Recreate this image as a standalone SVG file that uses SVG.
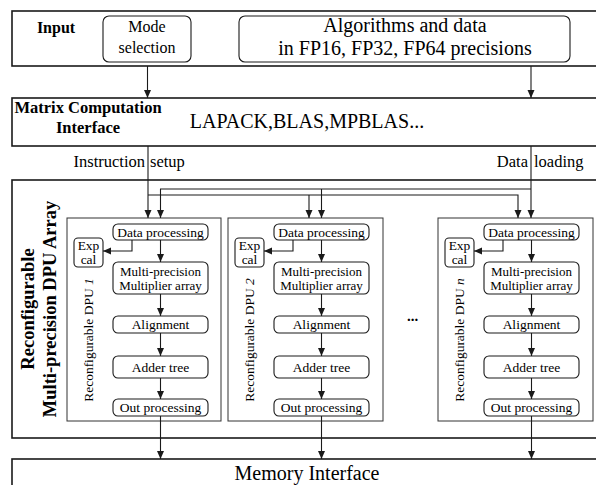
<svg xmlns="http://www.w3.org/2000/svg" width="596" height="485" viewBox="0 0 596 485">
<defs>
<marker id="ah" markerUnits="userSpaceOnUse" markerWidth="9" markerHeight="8" refX="8" refY="3.5" orient="auto">
<path d="M0,0 L8,3.5 L0,7 z" fill="#1a1a1a"/>
</marker>
</defs>
<rect x="0" y="0" width="596" height="485" fill="#fff"/>

<g id="frames" fill="#fff" stroke="#1a1a1a" stroke-width="1.6">
<rect id="input" x="12" y="11" width="600" height="55"/>
<rect id="matrix" x="12" y="98" width="600" height="48"/>
<rect id="array" x="12" y="180" width="600" height="258"/>
<rect id="memory" x="12" y="459" width="600" height="40"/>
</g>

<g id="topboxes" fill="#fff" stroke="#1a1a1a" stroke-width="1.1">
<rect id="mode" x="103" y="16" width="88" height="46" rx="6"/>
<rect id="algorithms" x="239" y="16" width="331" height="46" rx="6"/>
</g>

<g id="dpu1">
<rect x="67" y="218" width="154" height="203" fill="#fff" stroke="#333" stroke-width="1"/>
<g fill="#fff" stroke="#1a1a1a" stroke-width="1.1">
<rect x="113" y="224" width="95" height="16" rx="5"/>
<rect x="74" y="238" width="29" height="29" rx="4"/>
<rect x="113" y="262" width="95" height="32" rx="5"/>
<rect x="113" y="316" width="95" height="17" rx="5"/>
<rect x="113" y="356" width="95" height="22" rx="5"/>
<rect x="113" y="399" width="95" height="17" rx="5"/>
</g>
</g>
<g id="dpu2">
<rect x="228" y="218" width="155" height="203" fill="#fff" stroke="#333" stroke-width="1"/>
<g fill="#fff" stroke="#1a1a1a" stroke-width="1.1">
<rect x="274" y="224" width="95" height="16" rx="5"/>
<rect x="235" y="238" width="29" height="29" rx="4"/>
<rect x="274" y="262" width="95" height="32" rx="5"/>
<rect x="274" y="316" width="95" height="17" rx="5"/>
<rect x="274" y="356" width="95" height="22" rx="5"/>
<rect x="274" y="399" width="95" height="17" rx="5"/>
</g>
</g>
<g id="dpun">
<rect x="438" y="218" width="155" height="203" fill="#fff" stroke="#333" stroke-width="1"/>
<g fill="#fff" stroke="#1a1a1a" stroke-width="1.1">
<rect x="484" y="224" width="95" height="16" rx="5"/>
<rect x="445" y="238" width="29" height="29" rx="4"/>
<rect x="484" y="262" width="95" height="32" rx="5"/>
<rect x="484" y="316" width="95" height="17" rx="5"/>
<rect x="484" y="356" width="95" height="22" rx="5"/>
<rect x="484" y="399" width="95" height="17" rx="5"/>
</g>
</g>

<g id="connectors" fill="none" stroke="#1a1a1a" stroke-width="1.1" marker-end="url(#ah)">
<path d="M147.5,66 V98"/>
<path d="M531,66 V98"/>
<path d="M148,146 V218"/>
<path d="M531,146 V218"/>
<path d="M148,195 H518 V218"/>
<path d="M309,195 V218"/>
<path d="M531,189 H160.5 V218"/>
<path d="M321.5,189 V218"/>
<path d="M132,240 V251 H103"/>
<path d="M160.5,240 V262"/>
<path d="M160.5,294 V316"/>
<path d="M160.5,333 V356"/>
<path d="M160.5,378 V399"/>
<path d="M160.5,416 V459"/>
<path d="M293,240 V251 H264"/>
<path d="M321.5,240 V262"/>
<path d="M321.5,294 V316"/>
<path d="M321.5,333 V356"/>
<path d="M321.5,378 V399"/>
<path d="M321.5,416 V459"/>
<path d="M503,240 V251 H474"/>
<path d="M531.5,240 V262"/>
<path d="M531.5,294 V316"/>
<path d="M531.5,333 V356"/>
<path d="M531.5,378 V399"/>
<path d="M531.5,416 V459"/>
</g>

<g id="texts">
<text x="56" y="33" font-size="16" font-family="Liberation Serif" font-weight="bold" text-anchor="middle">Input</text>
<text x="147" y="32" font-size="16" font-family="Liberation Serif" text-anchor="middle">Mode</text>
<text x="147" y="53" font-size="16" font-family="Liberation Serif" text-anchor="middle">selection</text>
<text x="405" y="32" font-size="20" font-family="Liberation Serif" text-anchor="middle">Algorithms and data</text>
<text x="405" y="55" font-size="20" font-family="Liberation Serif" text-anchor="middle">in FP16, FP32, FP64 precisions</text>
<text x="88" y="113" font-size="16.5" font-family="Liberation Serif" font-weight="bold" text-anchor="middle">Matrix Computation</text>
<text x="88" y="133" font-size="16.5" font-family="Liberation Serif" font-weight="bold" text-anchor="middle">Interface</text>
<text x="307" y="128" font-size="20" font-family="Liberation Serif" text-anchor="middle">LAPACK,BLAS,MPBLAS...</text>
<text x="145" y="167" font-size="16.5" font-family="Liberation Serif" text-anchor="end">Instruction</text>
<text x="150" y="167" font-size="16.5" font-family="Liberation Serif">setup</text>
<text x="528" y="167" font-size="16.5" font-family="Liberation Serif" text-anchor="end">Data</text>
<text x="534" y="167" font-size="16.5" font-family="Liberation Serif">loading</text>
<text font-size="18.5" font-family="Liberation Serif" font-weight="bold" text-anchor="middle" transform="translate(34,309) rotate(-90)">Reconfigurable</text>
<text font-size="18.5" font-family="Liberation Serif" font-weight="bold" text-anchor="middle" transform="translate(56,309) rotate(-90)">Multi-precision DPU Array</text>
<text x="412.5" y="321" font-size="15" font-family="Liberation Serif" font-weight="bold" text-anchor="middle">...</text>
<text x="307" y="480" font-size="20" font-family="Liberation Serif" text-anchor="middle">Memory Interface</text>

<text font-size="13.5" font-family="Liberation Serif" text-anchor="middle" transform="translate(92.5,340) rotate(-90)">Reconfigurable DPU <tspan font-style="italic">1</tspan></text>
<text x="160.5" y="236.5" font-size="13.5" font-family="Liberation Serif" text-anchor="middle">Data processing</text>
<text x="88.5" y="250" font-size="13.5" font-family="Liberation Serif" text-anchor="middle">Exp</text>
<text x="88.5" y="263.5" font-size="13.5" font-family="Liberation Serif" text-anchor="middle">cal</text>
<text x="160.5" y="276" font-size="13" font-family="Liberation Serif" text-anchor="middle">Multi-precision</text>
<text x="160.5" y="290" font-size="13" font-family="Liberation Serif" text-anchor="middle">Multiplier array</text>
<text x="160.5" y="329" font-size="13.5" font-family="Liberation Serif" text-anchor="middle">Alignment</text>
<text x="160.5" y="371.5" font-size="13.5" font-family="Liberation Serif" text-anchor="middle">Adder tree</text>
<text x="160.5" y="412" font-size="13.5" font-family="Liberation Serif" text-anchor="middle">Out processing</text>

<text font-size="13.5" font-family="Liberation Serif" text-anchor="middle" transform="translate(253.5,340) rotate(-90)">Reconfigurable DPU <tspan font-style="italic">2</tspan></text>
<text x="321.5" y="236.5" font-size="13.5" font-family="Liberation Serif" text-anchor="middle">Data processing</text>
<text x="249.5" y="250" font-size="13.5" font-family="Liberation Serif" text-anchor="middle">Exp</text>
<text x="249.5" y="263.5" font-size="13.5" font-family="Liberation Serif" text-anchor="middle">cal</text>
<text x="321.5" y="276" font-size="13" font-family="Liberation Serif" text-anchor="middle">Multi-precision</text>
<text x="321.5" y="290" font-size="13" font-family="Liberation Serif" text-anchor="middle">Multiplier array</text>
<text x="321.5" y="329" font-size="13.5" font-family="Liberation Serif" text-anchor="middle">Alignment</text>
<text x="321.5" y="371.5" font-size="13.5" font-family="Liberation Serif" text-anchor="middle">Adder tree</text>
<text x="321.5" y="412" font-size="13.5" font-family="Liberation Serif" text-anchor="middle">Out processing</text>

<text font-size="13.5" font-family="Liberation Serif" text-anchor="middle" transform="translate(463.5,340) rotate(-90)">Reconfigurable DPU <tspan font-style="italic">n</tspan></text>
<text x="531.5" y="236.5" font-size="13.5" font-family="Liberation Serif" text-anchor="middle">Data processing</text>
<text x="459.5" y="250" font-size="13.5" font-family="Liberation Serif" text-anchor="middle">Exp</text>
<text x="459.5" y="263.5" font-size="13.5" font-family="Liberation Serif" text-anchor="middle">cal</text>
<text x="531.5" y="276" font-size="13" font-family="Liberation Serif" text-anchor="middle">Multi-precision</text>
<text x="531.5" y="290" font-size="13" font-family="Liberation Serif" text-anchor="middle">Multiplier array</text>
<text x="531.5" y="329" font-size="13.5" font-family="Liberation Serif" text-anchor="middle">Alignment</text>
<text x="531.5" y="371.5" font-size="13.5" font-family="Liberation Serif" text-anchor="middle">Adder tree</text>
<text x="531.5" y="412" font-size="13.5" font-family="Liberation Serif" text-anchor="middle">Out processing</text>
</g>
</svg>
